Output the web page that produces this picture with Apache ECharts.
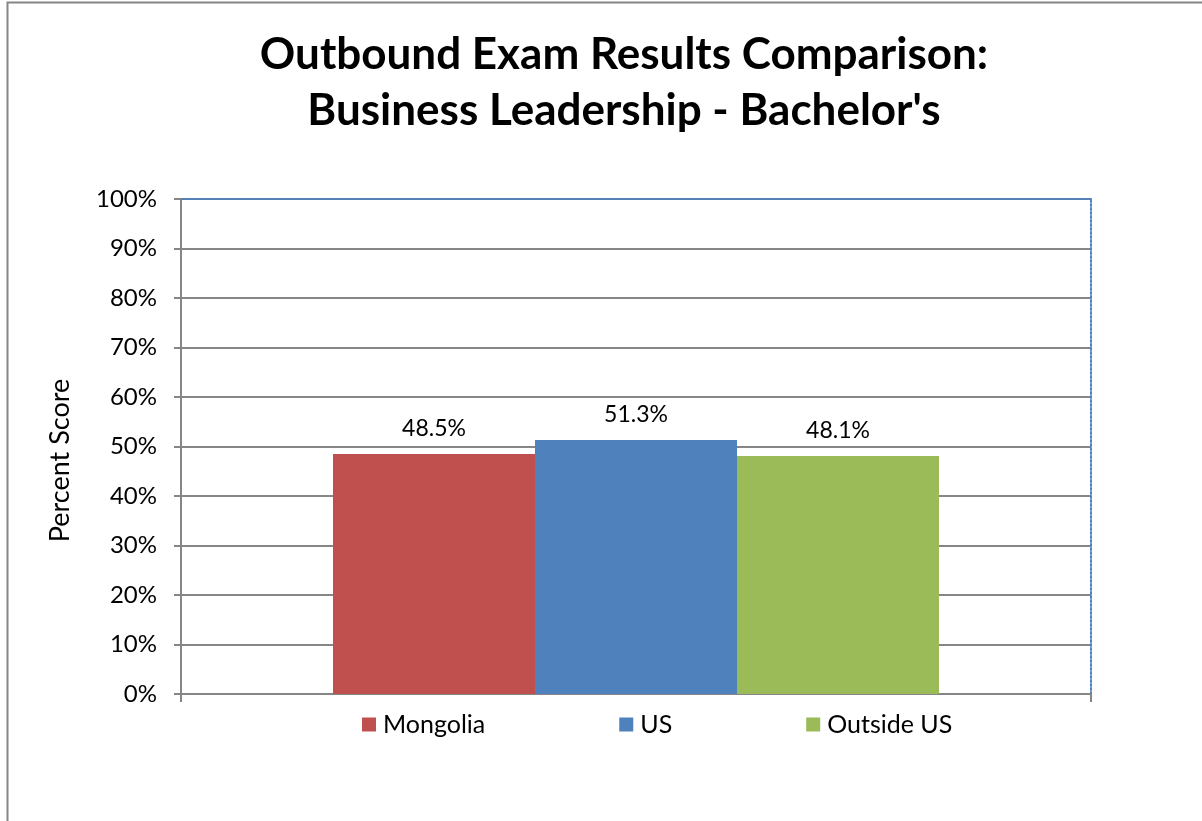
<!DOCTYPE html>
<html>
<head>
<meta charset="utf-8">
<script src="https://cdn.jsdelivr.net/npm/echarts@6/dist/echarts.min.js"></script>
<style>
  html, body { margin: 0; padding: 0; background: #fff; }
  #main { width: 1202px; height: 821px; }
</style>
</head>
<body>
<div id="main"></div>
<script>
// 数据
const categories = ['']
const seriesNames = ['Mongolia', 'US', 'Outside US']
const seriesValues = [[48.5], [51.3], [48.1]]
const seriesColors = ['#C0504D', '#4F81BD', '#9BBB59']
const yTicks = [0, 10, 20, 30, 40, 50, 60, 70, 80, 90, 100]

const font = 'Lato'
const gray = '#868686'

let chart = echarts.init(document.getElementById('main'))
chart.setOption({
  backgroundColor: '#fff',
  animation: false,
  title: {
    text: 'Outbound Exam Results Comparison:\nBusiness Leadership - Bachelor\'s',
    left: 619,
    top: 22,
    textAlign: 'center',
    textStyle: {
      fontFamily: font,
      fontWeight: 'bold',
      fontSize: 44,
      lineHeight: 56,
      color: '#000'
    }
  },
  graphic: [
    {
      type: 'rect',
      shape: { x: 7.5, y: 2.5, width: 1300, height: 900 },
      style: { fill: 'none', stroke: gray, lineWidth: 2 },
      silent: true
    }
  ],
  legend: {
    data: seriesNames,
    top: 707,
    left: 357,
    itemWidth: 14,
    itemHeight: 14,
    itemGap: 134,
    icon: 'rect',
    textStyle: { fontFamily: font, fontSize: 25, color: '#000', padding: [0, 0, 0, 2] }
  },
  grid: {
    left: 181,
    right: 111,
    top: 199,
    bottom: 127,
    show: true,
    borderWidth: 0
  },
  xAxis: [
    {
      type: 'category',
      data: categories,
      axisLine: { lineStyle: { color: gray, width: 2 } },
      axisTick: { show: true, length: 8, lineStyle: { color: gray, width: 2 } },
      axisLabel: { show: false }
    },
    {
      type: 'category',
      position: 'top',
      data: categories,
      axisLine: { onZero: false, lineStyle: { color: '#4F81BD', width: 2, type: 'dotted' } },
      axisTick: { show: false },
      axisLabel: { show: false }
    }
  ],
  yAxis: [
    {
      type: 'value',
      min: 0,
      max: 100,
      interval: 10,
      name: 'Percent Score',
      nameLocation: 'middle',
      nameGap: 107,
      nameTextStyle: { fontFamily: font, fontSize: 27, color: '#000', padding: [0, 28, 0, 0] },
      axisLine: { show: true, lineStyle: { color: gray, width: 2 } },
      axisTick: { show: true, length: 7, lineStyle: { color: gray, width: 2 } },
      axisLabel: {
        fontFamily: font,
        fontSize: 24,
        color: '#000',
        margin: 24,
        formatter: function (v) { return yTicks.indexOf(v) >= 0 ? v + '%' : '' }
      },
      splitLine: { show: true, lineStyle: { color: gray, width: 2 } }
    },
    {
      type: 'value',
      position: 'right',
      min: 0,
      max: 100,
      interval: 10,
      axisLine: { show: true, onZero: false, lineStyle: { color: '#4F81BD', width: 2, type: 'dotted' } },
      axisTick: { show: false },
      axisLabel: { show: false },
      splitLine: { show: false }
    }
  ],
  series: seriesNames.map(function (name, i) {
    return {
      name: name,
      type: 'bar',
      data: seriesValues[i],
      barWidth: 202,
      barGap: '0%',
      itemStyle: { color: seriesColors[i] },
      label: {
        show: true,
        position: 'top',
        distance: 14,
        fontFamily: font,
        fontSize: 23,
        color: '#000',
        formatter: function (p) { return p.value.toFixed(1) + '%' }
      }
    }
  })
})
</script>
</body>
</html>
